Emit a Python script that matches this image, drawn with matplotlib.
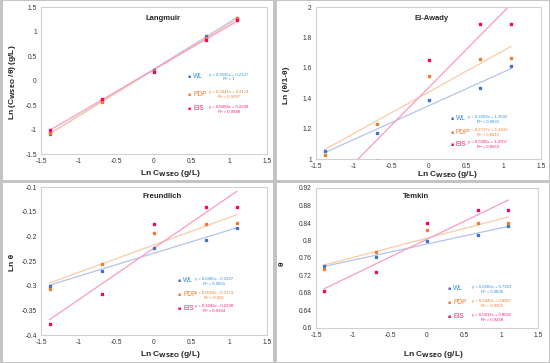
import numpy as np
import matplotlib.pyplot as plt
from matplotlib.patches import Rectangle

# ln C (g/L) for 0.25, 0.5, 1, 2, 3 g/L
ln_c = [-1.386, -0.693, 0.0, 0.693, 1.099]
methods = ["WL", "PDP", "EIS"]

langmuir_wl = [-1.086, -0.423, 0.224, 0.900, 1.282]
langmuir_pdp = [-1.080, -0.437, 0.193, 0.868, 1.272]
langmuir_eis = [-1.008, -0.377, 0.175, 0.833, 1.239]

awady_wl = [1.05, 1.17, 1.385, 1.47, 1.61]
awady_pdp = [1.025, 1.23, 1.545, 1.655, 1.665]
awady_eis = [0.78, 0.99, 1.65, 1.89, 1.89]

freund_wl = [-0.300, -0.270, -0.224, -0.207, -0.183]
freund_pdp = [-0.306, -0.256, -0.193, -0.175, -0.173]
freund_eis = [-0.378, -0.316, -0.175, -0.140, -0.140]

temkin_wl = [0.741, 0.763, 0.799, 0.813, 0.833]
temkin_pdp = [0.736, 0.774, 0.824, 0.839, 0.841]
temkin_eis = [0.685, 0.729, 0.839, 0.869, 0.869]

eq_langmuir = ["y = 0,9535x + 0,2337\nR² = 1",
               "y = 0,9441x + 0,2174\nR² = 0,9997",
               "y = 0,8958x + 0,2238\nR² = 0,9988"]
eq_awady = ["y = 0,2203x + 1,3502\nR² = 0,9831",
            "y = 0,2737x + 1,4413\nR² = 0,8415",
            "y = 0,5005x + 1,4707\nR² = 0,8563"]
eq_freund = ["y = 0,0465x - 0,2337\nR² = 0,9831",
             "y = 0,0558x - 0,2174\nR² = 0,926",
             "y = 0,1042x - 0,2238\nR² = 0,9194"]
eq_temkin = ["y = 0,0366x + 0,7923\nR² = 0,9838",
             "y = 0,0443x + 0,8057\nR² = 0,9303",
             "y = 0,0812x + 0,8032\nR² = 0,9228"]

point_colors = ["#4472C4", "#ED7D31", "#FF0066"]
line_colors = ["#B4C3EC", "#F9CBA8", "#F89CC2"]
text_colors = ["#2F8FE0", "#ED7D31", "#FF1A75"]

W, H = 550, 363
plt.rcParams['font.family'] = ['Liberation Sans', 'DejaVu Sans']

fig = plt.figure(figsize=(5.5, 3.63), dpi=100)
fig.patch.set_facecolor("#c4c4c4")


def fx(px):
    return px / W


def fy(py):
    return 1 - py / H


# white panels
for (x0, y0, x1, y1) in [(3, 1, 273, 180), (277, 1, 549, 180),
                         (3, 183, 273, 362), (277, 183, 549, 362)]:
    fig.patches.append(Rectangle((fx(x0), fy(y1)), fx(x1 - x0), (y1 - y0) / H,
                                 transform=fig.transFigure, facecolor="white",
                                 edgecolor="none", zorder=-10))


def panel(box, series, eqs, ylim, yticks, yfmt, title, title_xy, ylabel,
          ylabel_xy, xlabel_xy, legend_x, legend_ys, eq_x):
    l, r, t, b = box
    ax = fig.add_axes([fx(l), fy(b), fx(r - l), (b - t) / H])
    ax.set_facecolor("none")
    for s in ax.spines.values():
        s.set_color("#d0d0d0")
        s.set_linewidth(0.8)
    ax.set_xlim(-1.5, 1.5)
    ax.set_ylim(*ylim)
    ax.set_xticks([-1.5, -1, -0.5, 0, 0.5, 1, 1.5])
    ax.set_xticklabels(["-1.5", "-1", "-0.5", "0", "0.5", "1", "1.5"])
    ax.set_yticks(yticks)
    ax.set_yticklabels([yfmt(v) for v in yticks])
    ax.tick_params(length=0, labelsize=4.8, pad=3, colors="#333333")
    x = np.array(ln_c)
    for i, ys in enumerate(series):
        k, c0 = np.polyfit(x, ys, 1)
        xx = np.array([x.min(), x.max()])
        ax.plot(xx, k * xx + c0, color=line_colors[i], lw=0.9, zorder=2)
        ax.plot(x, ys, "s", ms=1.6, color=point_colors[i], zorder=3,
                clip_on=True)
    fig.text(fx(title_xy[0]), fy(title_xy[1]), title, ha="center",
             va="center", fontsize=5.5, fontweight="bold", color="#262626")
    fig.text(fx(ylabel_xy[0]), fy(ylabel_xy[1]), ylabel, ha="center",
             va="center", rotation=90, fontsize=6, fontweight="bold",
             color="#262626")
    fig.text(fx(xlabel_xy[0]), fy(xlabel_xy[1]), r"Ln C$_{\mathbf{WSEO}}$ (g/L)",
             ha="center", va="center", fontsize=6, fontweight="bold",
             color="#262626")
    for i, m in enumerate(methods):
        fig.text(fx(legend_x), fy(legend_ys[i]), "▪", ha="center", va="center",
                 fontsize=3.5, color=point_colors[i], family="DejaVu Sans")
        fig.text(fx(legend_x + 4), fy(legend_ys[i]), m, ha="left", va="center",
                 fontsize=4.8, color=text_colors[i])
        fig.text(fx(eq_x), fy(legend_ys[i]), eqs[i], ha="center", va="center",
                 fontsize=3.1, color=text_colors[i], linespacing=1.2)
    return ax


panel((41, 267, 7, 154), [langmuir_wl, langmuir_pdp, langmuir_eis], eq_langmuir,
      (-1.5, 1.5), [-1.5, -1, -0.5, 0, 0.5, 1, 1.5], lambda v: f"{v:g}",
      "Langmuir", (163, 19), r"Ln (C$_{\mathbf{WSEO}}$ /θ) (g/L)", (12, 82),
      (170, 174), 189, [77, 94, 109], 229)

panel((316, 541, 7, 159), [awady_wl, awady_pdp, awady_eis], eq_awady,
      (1, 2), [1, 1.2, 1.4, 1.6, 1.8, 2], lambda v: f"{v:g}",
      "El-Awady", (432, 18), "Ln (θ/1-θ)", (287, 85),
      (447, 175), 452, [119, 132, 144], 488)

panel((41, 267, 187, 335), [freund_wl, freund_pdp, freund_eis], eq_freund,
      (-0.4, -0.1), [-0.4, -0.35, -0.3, -0.25, -0.2, -0.15, -0.1],
      lambda v: f"{v:g}",
      "Freundlich", (162, 196), "Ln θ", (13, 262),
      (170, 354), 179, [281, 295, 308], 214)

panel((316, 538, 188, 328), [temkin_wl, temkin_pdp, temkin_eis], eq_temkin,
      (0.6, 0.92), [0.6, 0.64, 0.68, 0.72, 0.76, 0.8, 0.84, 0.88, 0.92],
      lambda v: f"{v:g}",
      "Temkin", (416, 196), "θ", (282, 264),
      (433, 354), 449, [289, 303, 317], 492)

fig.savefig("out.png", dpi=100, facecolor=fig.get_facecolor())
